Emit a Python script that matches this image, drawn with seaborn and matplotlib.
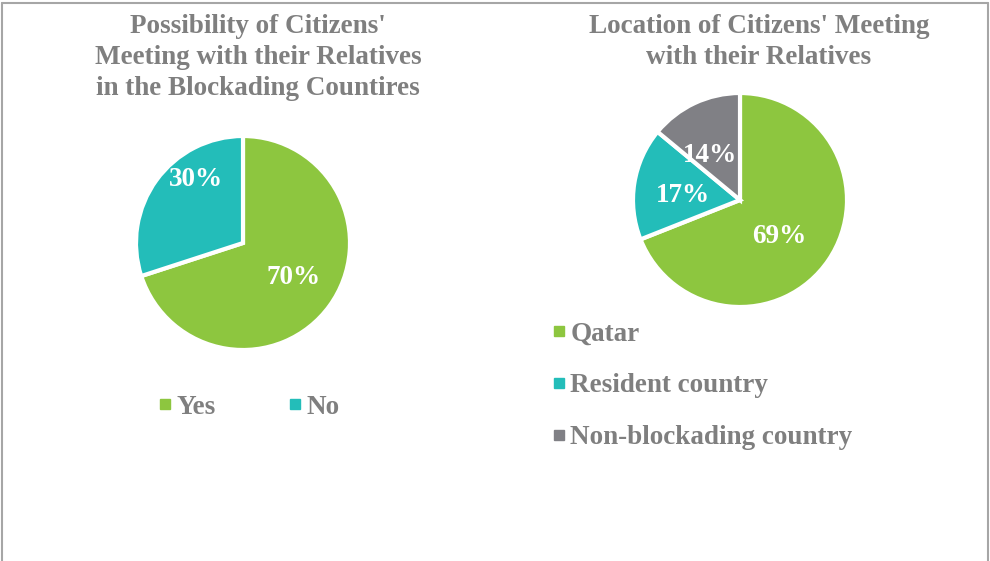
import matplotlib
matplotlib.use("Agg")
import matplotlib.pyplot as plt
from matplotlib.lines import Line2D
import seaborn as sns

# ========== Data ==========
left_title = ["Possibility of Citizens'", "Meeting with their Relatives",
              "in the Blockading Countires"]
left_labels = ["Yes", "No"]
left_values = [70, 30]

right_title = ["Location of Citizens' Meeting", "with their Relatives"]
right_labels = ["Qatar", "Resident country", "Non-blockading country"]
right_values = [69, 17, 14]

# ========== Style ==========
sns.set_theme(style="white")
plt.rcParams["font.family"] = ["Liberation Serif", "DejaVu Serif"]
plt.rcParams["font.weight"] = "bold"

GREEN = "#8DC63F"
TEAL = "#23BDB9"
GREY = "#808085"
TEXT_GREY = "#7F7F7F"
FS = 19.5

W, H = 990, 561
fig = plt.figure(figsize=(W / 100, H / 100), dpi=100)


def px_box(cx, cy, r):
    # pixel centre/radius (top-left origin) -> figure fraction box
    return [(cx - r) / W, (H - cy - r) / H, 2 * r / W, 2 * r / H]


def draw_pie(ax, values, colors, label_xy):
    wedges, _, pcts = ax.pie(
        values, colors=colors, startangle=90, counterclock=False,
        autopct="%1.0f%%", radius=1,
        wedgeprops=dict(edgecolor="white", linewidth=3),
        textprops=dict(color="white", fontsize=FS, fontweight="bold"),
    )
    # Excel-style "best fit" label spots
    for t, (x, y) in zip(pcts, label_xy):
        t.set_position((x, y))
    ax.set_xlim(-1, 1)
    ax.set_ylim(-1, 1)
    ax.set_aspect("equal")
    ax.axis("off")
    return wedges


def draw_title(lines, cx, first_baseline, step=31):
    for i, line in enumerate(lines):
        fig.text(cx / W, 1 - (first_baseline + i * step) / H, line,
                 ha="center", va="baseline", fontsize=FS,
                 fontweight="bold", color=TEXT_GREY)


legend_kw = dict(frameon=False, prop=dict(size=FS, weight="bold"),
                 labelcolor=TEXT_GREY, handlelength=0.4, handletextpad=0.22,
                 borderpad=0, borderaxespad=0)

# ========== Left pie ==========
ax1 = fig.add_axes(px_box(243, 243, 107))
draw_pie(ax1, left_values, [GREEN, TEAL], [(0.47, -0.32), (-0.44, 0.59)])
draw_title(left_title, 258, 33)

h1 = [Line2D([], [], marker="s", ls="", markersize=7.2, color=c) for c in [GREEN, TEAL]]
fig.legend(h1, left_labels, loc="center left", ncol=2,
           bbox_to_anchor=(159.5 / W, 1 - 407 / H), columnspacing=2.72,
           **legend_kw)

# ========== Right pie ==========
ax2 = fig.add_axes(px_box(740, 200, 107))
draw_pie(ax2, right_values, [GREEN, TEAL, GREY],
         [(0.37, -0.34), (-0.53, 0.04), (-0.28, 0.42)])
draw_title(right_title, 759, 33)

h2 = [Line2D([], [], marker="s", ls="", markersize=7.2, color=c) for c in [GREEN, TEAL, GREY]]
fig.legend(h2, right_labels, loc="center left",
           bbox_to_anchor=(553.5 / W, 1 - 386 / H), labelspacing=0.99,
           **legend_kw)

# ========== Frame (cropped at the bottom) ==========
frame_kw = dict(color="#A6A6A6", linewidth=1.5, transform=fig.transFigure)
fig.add_artist(Line2D([2 / W, 2 / W], [0, 1 - 3 / H], **frame_kw))
fig.add_artist(Line2D([2 / W, 988 / W], [1 - 3 / H, 1 - 3 / H], **frame_kw))
fig.add_artist(Line2D([988 / W, 988 / W], [0, 1 - 3 / H], **frame_kw))

fig.savefig("out.png", dpi=100, facecolor="white")
